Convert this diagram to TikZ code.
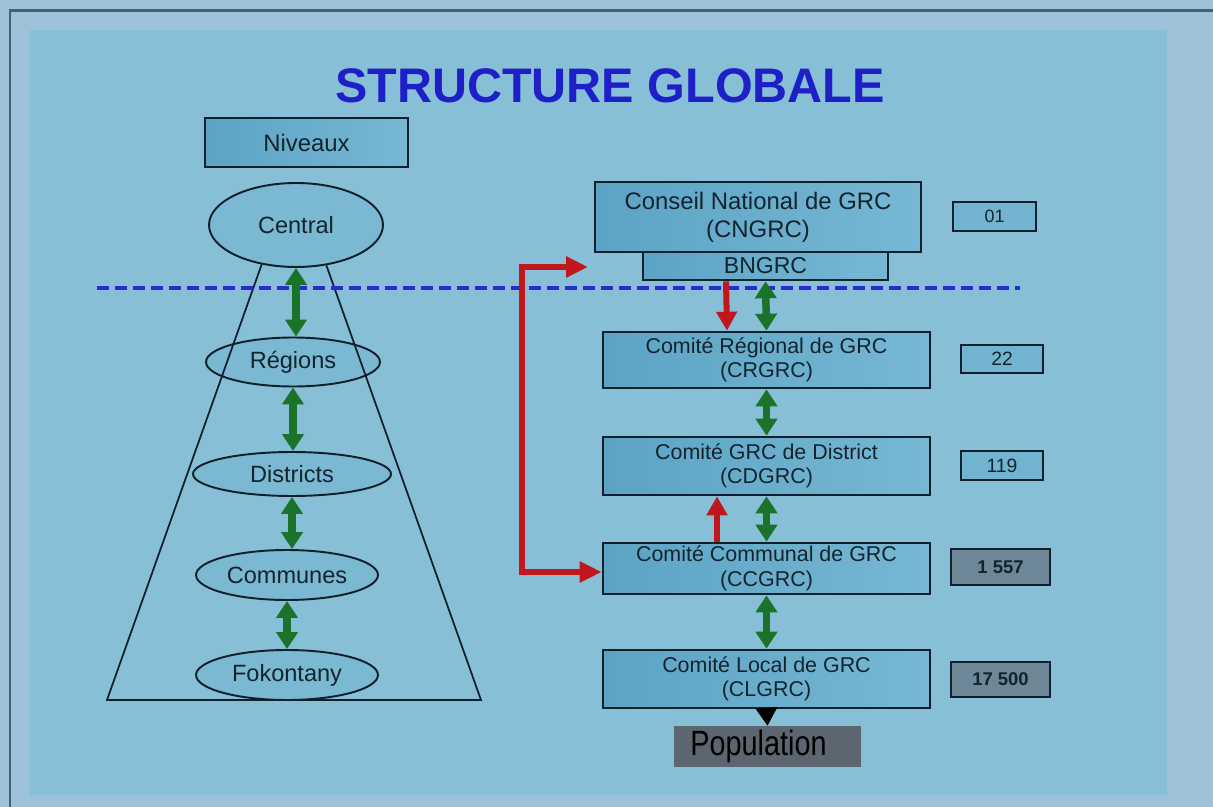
\documentclass[tikz,border=0pt]{standalone}
\usepackage{fontspec}
\setmainfont{Liberation Sans}
\usetikzlibrary{arrows.meta,shapes.geometric}
\definecolor{pagebg}{HTML}{9DC1D9}
\definecolor{panelbg}{HTML}{87BFD6}
\definecolor{framecol}{HTML}{4E5D6C}
\definecolor{edge}{HTML}{10202C}
\definecolor{ink}{HTML}{14242F}
\definecolor{boxl}{HTML}{5CA3C4}
\definecolor{boxr}{HTML}{76B8D4}
\definecolor{ellfill}{HTML}{7BB8D2}
\definecolor{numfill}{HTML}{72B3CF}
\definecolor{numdark}{HTML}{6D8796}
\definecolor{popfill}{HTML}{5B6670}
\definecolor{titleblue}{HTML}{1F1FC8}
\definecolor{dashcol}{HTML}{2A2AD0}
\definecolor{vert}{HTML}{1B722B}
\definecolor{rouge}{HTML}{C0161C}

\begin{document}
\begin{tikzpicture}[x=0.02cm,y=-0.02cm,
	lvl/.style={ellipse,draw=edge,line width=1.1pt,fill=ellfill,inner sep=0pt,text=ink,font=\fontsize{13.4}{16}\selectfont},
	grc/.style={draw=edge,line width=1.5pt,left color=boxl,right color=boxr,inner sep=0pt,align=center,text=ink,font=\fontsize{12.2}{14}\selectfont,minimum width=6.54cm},
	nb/.style={draw=edge,line width=1.5pt,fill=numfill,inner sep=0pt,text=ink,font=\fontsize{11}{13}\selectfont},
	nbdark/.style={nb,fill=numdark,font=\bfseries\fontsize{10.5}{13}\selectfont},
	lien/.style={{Triangle[length=0.34cm,width=0.42cm]}-{Triangle[length=0.34cm,width=0.42cm]},vert,line width=0.15cm},
	rlien/.style={-{Triangle[length=0.38cm,width=0.4cm]},rouge,line width=0.12cm}]
	\useasboundingbox (0,0) rectangle (1213,807);
	\fill[pagebg] (0,0) rectangle (1213,807);
	\fill[panelbg] (30,30) rectangle (1167,795);
	\draw[framecol,line width=0.06cm] (10,807) -- (10,11) -- (1213,11);

	\node (titre) at (610,86) [font=\bfseries\fontsize{27.6}{33}\selectfont,text=titleblue] {STRUCTURE GLOBALE};

	\node (niveaux) at (306.5,142.5) [grc,minimum width=4.06cm,minimum height=0.98cm,font=\fontsize{13.6}{16}\selectfont] {Niveaux};
	\node (central) at (296,225) [lvl,minimum width=3.48cm,minimum height=1.68cm] {Central};
	\node (regions) at (293,362) [lvl,minimum width=3.48cm,minimum height=0.98cm] {Régions};
	\node (districts) at (292,474) [lvl,minimum width=3.96cm,minimum height=0.88cm] {Districts};
	\node (communes) at (287,575) [lvl,minimum width=3.64cm,minimum height=1cm] {Communes};
	\node (fokontany) at (287,675) [lvl,minimum width=3.64cm,minimum height=1cm] {Fokontany};
	\draw[edge,line width=1pt] (central.229) -- (107,700) -- (481,700) -- (central.307);

	\coordinate (dl) at (97,288);
	\coordinate (dr) at (1020,288);
	\draw[dashcol,line width=0.08cm,dash pattern=on 0.24cm off 0.12cm] (dl) -- (dr);

	\draw[lien] (central.south) -- (central.south |- regions.north);
	\draw[lien] (regions.south) -- (regions.south |- districts.north);
	\draw[lien] (districts.south) -- (districts.south |- communes.north);
	\draw[lien] (communes.south) -- (communes.south |- fokontany.north);

	\node (BNGRC) at (765.5,266) [grc,minimum width=4.9cm,minimum height=0.56cm,font=\fontsize{13.1}{15}\selectfont] {BNGRC};
	\node (CNGRC) at (758,217) [grc,minimum width=6.52cm,minimum height=1.4cm,font=\fontsize{13.6}{16}\selectfont] {Conseil National de GRC\\(CNGRC)};
	\node (CRGRC) at (766.5,360) [grc,minimum height=1.12cm] {Comité Régional de GRC\\(CRGRC)};
	\node (CDGRC) at (766.5,466) [grc,minimum height=1.16cm] {Comité GRC de District\\(CDGRC)};
	\node (CCGRC) at (766.5,568.5) [grc,minimum height=1.02cm] {Comité Communal de GRC\\(CCGRC)};
	\node (CLGRC) at (766.5,679) [grc,minimum height=1.16cm] {Comité Local de GRC\\(CLGRC)};
	\node (population) at (767.5,746.5) [fill=popfill,minimum width=3.74cm,minimum height=0.82cm,inner sep=0pt,text=black,font=\fontsize{20}{24}\selectfont] {\scalebox{0.82}[1]{Population}\kern0.36cm};

	\node (n01) at (994.5,216.5) [nb,minimum width=1.66cm,minimum height=0.58cm,font=\fontsize{10.2}{12}\selectfont] {01};
	\node (n22) at (1002,359) [nb,minimum width=1.64cm,minimum height=0.56cm] {22};
	\node (n119) at (1002,465.5) [nb,minimum width=1.64cm,minimum height=0.58cm] {119};
	\node (n1557) at (1000.5,567) [nbdark,minimum width=1.98cm,minimum height=0.72cm] {1 557};
	\node (n17500) at (1000.5,679.5) [nbdark,minimum width=1.98cm,minimum height=0.7cm] {17 500};

	\draw[lien] (BNGRC.south) -- (CRGRC.north);
	\draw[lien] (CRGRC.south) -- (CDGRC.north);
	\draw[lien] (CDGRC.south) -- (CCGRC.north);
	\draw[lien] (CCGRC.south) -- (CLGRC.north);
	\draw[rlien] ([xshift=-0.79cm]BNGRC.south) -- ([xshift=-0.79cm]CRGRC.north);
	\draw[rlien] ([xshift=-0.99cm]CCGRC.north) -- ([xshift=-0.99cm]CDGRC.south);
	\coordinate (rtip) at (588,267);
	\coordinate (rcoin) at (522,572);
	\draw[rlien,{Triangle[length=0.44cm,width=0.4cm]}-{Triangle[length=0.44cm,width=0.4cm]}] (rtip) -| (rcoin) -- (rcoin -| CCGRC.west);
	\draw[-{Triangle[length=0.36cm,width=0.44cm]},line width=0.5pt,black] (CLGRC.south) -- (population.north);
\end{tikzpicture}
\end{document}
